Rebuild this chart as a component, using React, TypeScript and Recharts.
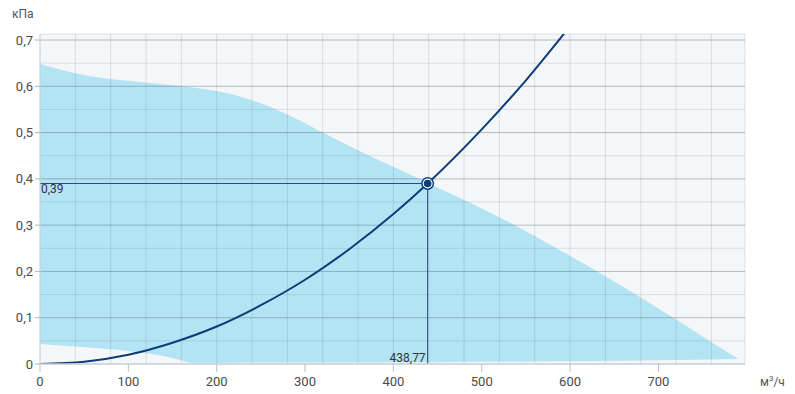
import {
  ComposedChart,
  Area,
  Line,
  XAxis,
  YAxis,
  CartesianGrid,
  ReferenceLine,
  ReferenceDot,
} from 'recharts'

// рабочая зона вентилятора (нижняя и верхняя граница), м³/ч -> кПа
const zoneFlow = [0, 50, 100, 125, 150, 175, 200, 240, 265, 290, 320, 360, 400, 440, 500, 540, 580, 620, 660, 700, 740, 770, 790]
const zoneLow = [0.043, 0.036, 0.028, 0.022, 0.013, 0.002, 0.002, 0.003, 0.003, 0.003, 0.003, 0.003, 0.004, 0.004, 0.005, 0.005, 0.006, 0.006, 0.007, 0.008, 0.009, 0.01, 0.011]
const zoneHigh = [0.648, 0.624, 0.612, 0.607, 0.602, 0.597, 0.59, 0.57, 0.552, 0.53, 0.5, 0.462, 0.426, 0.39, 0.336, 0.297, 0.255, 0.212, 0.167, 0.12, 0.072, 0.035, 0.012]

// характеристика сети
const netFlow = [0, 50, 100, 150, 200, 250, 300, 350, 400, 438.77, 500, 550, 600]
const netPressure = [0, 0.005, 0.02, 0.046, 0.081, 0.127, 0.182, 0.248, 0.324, 0.39, 0.507, 0.613, 0.73]

const workFlow = 438.77
const workPressure = 0.39

const xTicks = [0, 100, 200, 300, 400, 500, 600, 700]
const yTicks = [0, 0.1, 0.2, 0.3, 0.4, 0.5, 0.6, 0.7]
const xGrid = [0, 20, 40, 60, 80, 100, 120, 140, 160, 180, 200, 220, 240, 260, 280, 300, 320, 340, 360, 380, 400, 420, 440, 460, 480, 500, 520, 540, 560, 580, 600, 620, 640, 660, 680, 700, 720, 740, 760, 780, 798]
const yGrid = [0, 0.05, 0.15, 0.25, 0.35, 0.45, 0.55, 0.65, 0.713]

const X_MAX = 798
const Y_MAX = 0.713
const W = 795
const H = 394

const NAVY = '#0b3d78'
const comma = (v: number) => String(v).replace('.', ',')

const zoneRows = zoneFlow.map((x, i) => ({ x, range: [zoneLow[i], zoneHigh[i]] }))
const netRows = netFlow.map((x, i) => ({ x, net: netPressure[i] }))

function WorkPoint({ cx, cy }: { cx?: number; cy?: number }) {
  if (cx == null || cy == null) return null
  return (
    <g>
      <circle cx={cx} cy={cy} r={6.5} fill={NAVY} />
      <circle cx={cx} cy={cy} r={5} fill="#ffffff" />
      <circle cx={cx} cy={cy} r={3.8} fill={NAVY} />
    </g>
  )
}

const layer = { position: 'absolute' as const, left: 0, top: 0 }

export default function App() {
  return (
    <div
      style={{
        position: 'absolute',
        left: 0,
        top: 0,
        width: W,
        height: H,
        background: '#fff',
        fontFamily: 'Roboto, sans-serif',
      }}
    >
      {/* нижний слой: фон и рабочая зона */}
      <div style={layer}>
        <ComposedChart
          width={W}
          height={H}
          data={zoneRows}
          margin={{ top: 34, right: 50, left: 40, bottom: 30 }}
        >
          <CartesianGrid fill="#f5f6f8" stroke="none" />
          <XAxis type="number" dataKey="x" domain={[0, X_MAX]} allowDataOverflow hide />
          <YAxis type="number" domain={[0, Y_MAX]} allowDataOverflow hide />
          <Area
            dataKey="range"
            type="monotone"
            stroke="none"
            fill="#b3e4f4"
            fillOpacity={1}
            isAnimationActive={false}
          />
        </ComposedChart>
      </div>

      {/* верхний слой: сетка, оси, характеристика сети */}
      <div style={layer}>
        <ComposedChart
          width={W}
          height={H}
          data={netRows}
          margin={{ top: 34, right: 50, left: 0, bottom: 0 }}
        >
          <CartesianGrid
            stroke="#5a5f6e"
            strokeOpacity={0.16}
            verticalValues={xGrid}
            horizontalValues={yGrid}
          />
          <XAxis
            type="number"
            dataKey="x"
            domain={[0, X_MAX]}
            ticks={xTicks}
            allowDataOverflow
            height={30}
            tickSize={8}
            tickMargin={5}
            tickLine={{ stroke: '#b9c0c8' }}
            axisLine={{ stroke: '#cdd2d8', strokeWidth: 1.5 }}
            tick={{ fill: '#4a4a4a', fontSize: 13 }}
          />
          <YAxis
            type="number"
            domain={[0, Y_MAX]}
            ticks={yTicks}
            allowDataOverflow
            width={40}
            tickSize={5}
            tickMargin={2}
            tickFormatter={comma}
            tickLine={{ stroke: '#aeb6c0' }}
            axisLine={{ stroke: '#d3d5d9' }}
            tick={{ fill: '#4a4a4a', fontSize: 13 }}
          />
          {yTicks.slice(1).map((v) => (
            <ReferenceLine key={'my' + v} y={v} stroke="#3c5064" strokeOpacity={0.35} />
          ))}
          <ReferenceLine
            segment={[{ x: 0, y: workPressure }, { x: workFlow, y: workPressure }]}
            stroke="#2d4b6d"
            label={{ value: comma(workPressure), position: 'insideTopLeft', offset: 1, fill: '#333', fontSize: 12 }}
          />
          <ReferenceLine
            segment={[{ x: workFlow, y: 0 }, { x: workFlow, y: workPressure }]}
            stroke="#2d4b6d"
            label={{ value: comma(workFlow), position: 'insideBottomRight', offset: 2, fill: '#333', fontSize: 12 }}
          />
          <Line
            dataKey="net"
            type="monotone"
            stroke={NAVY}
            strokeWidth={2}
            dot={false}
            isAnimationActive={false}
          />
          <ReferenceDot x={workFlow} y={workPressure} shape={<WorkPoint />} />
        </ComposedChart>
      </div>

      <span style={{ position: 'absolute', left: 12, top: 7, fontSize: 12, color: '#555' }}>кПа</span>
      <span style={{ position: 'absolute', left: 760, top: 374, fontSize: 12, color: '#555' }}>
        м<sup style={{ fontSize: 8 }}>3</sup>/ч
      </span>
    </div>
  )
}
